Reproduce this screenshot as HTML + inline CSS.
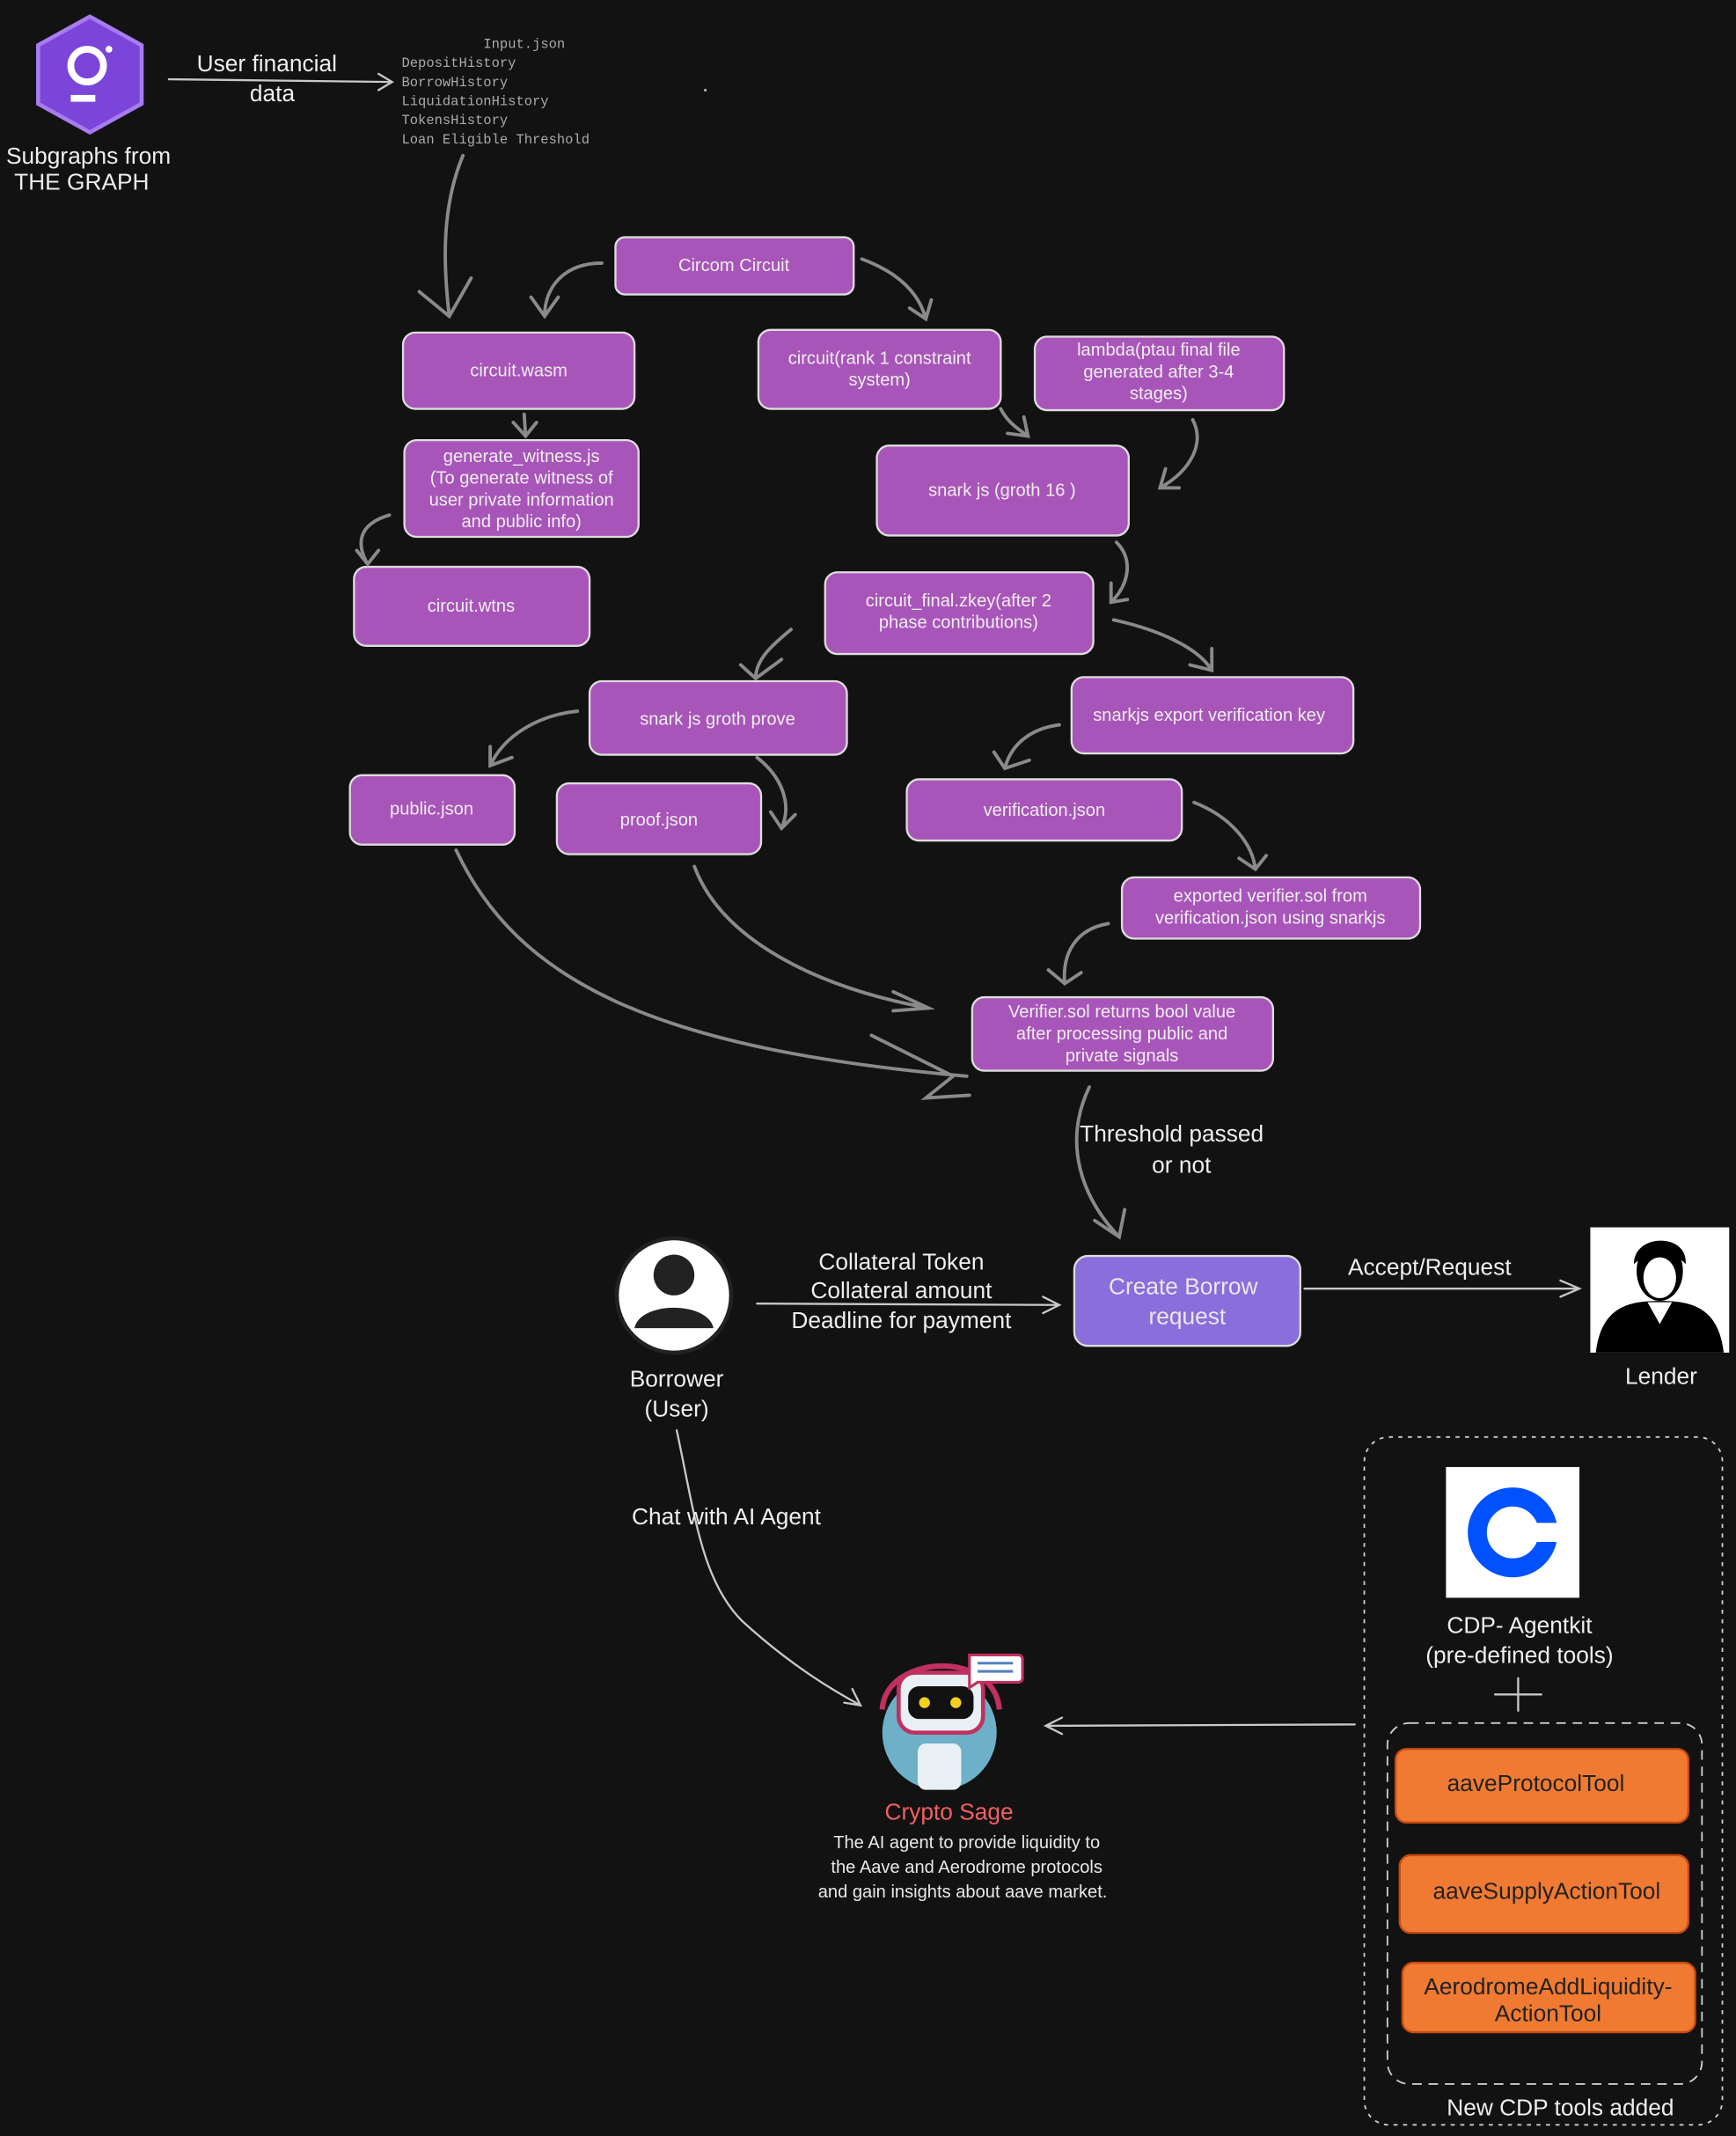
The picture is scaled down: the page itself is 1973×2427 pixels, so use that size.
<!DOCTYPE html>
<html><head><meta charset="utf-8"><style>
html,body{margin:0;padding:0;background:#121212;}
svg{display:block}
text{font-family:"Liberation Sans",sans-serif;fill:#e8e8e8}
.b{fill:#a855b9;stroke:#ddd;stroke-width:1.5}
.t{font-size:13px;text-anchor:middle;fill:#eee}
.a{fill:none;stroke:#8a8a8a;stroke-width:2.5;stroke-linecap:round}
.w{fill:none;stroke:#c8c8c8;stroke-width:1.5;stroke-linecap:round}
.m{font-family:"Liberation Mono",monospace;font-size:10px;fill:#aaa}
.h{font-size:17px;fill:#eee}
.o{fill:#f07a32;stroke:#c84a10;stroke-width:1.5}
.ot{font-size:17px;text-anchor:middle;fill:#222}
</style></head><body>
<svg width="1973" height="2427" viewBox="0 0 1275 1568" xmlns="http://www.w3.org/2000/svg">
<rect width="1275" height="1568" fill="#121212"/>
<polygon points="66,12 104,33 104,76 66,97 28,76 28,33" fill="#7b45d9" stroke="#a77cf0" stroke-width="3"/>
<circle cx="64" cy="48" r="12" fill="none" stroke="#fff" stroke-width="5"/>
<line x1="52" y1="72" x2="70" y2="72" stroke="#fff" stroke-width="5"/>
<line x1="80" y1="36" x2="80" y2="36" stroke="#fff" stroke-width="5" stroke-linecap="round"/>
<text x="65" y="120" class="h" text-anchor="middle" font-size="15">Subgraphs from</text>
<text x="60" y="139" class="h" text-anchor="middle" font-size="15">THE GRAPH</text>
<text x="196" y="52" class="h" text-anchor="middle">User financial</text>
<text x="200" y="74" class="h" text-anchor="middle">data</text>
<path class="w" d="M124,58 L288,60 M278,54 L288,60 L278,66"/>
<text x="355" y="35" class="m">Input.json</text>
<text x="295" y="49" class="m">DepositHistory</text>
<text x="295" y="63" class="m">BorrowHistory</text>
<text x="295" y="77" class="m">LiquidationHistory</text>
<text x="295" y="91" class="m">TokensHistory</text>
<text x="295" y="105" class="m">Loan Eligible Threshold</text>
<circle cx="518" cy="66" r="1" fill="#bbb"/>
<path class="a" stroke="#b8bcc0" d="M340,114 C325,150 325,190 330,232 M308,214 L330,232 L346,204"/>
<rect class="b" x="452" y="174" width="175" height="42" rx="7"/><text class="t" x="539" y="199">Circom Circuit</text>
<rect class="b" x="296" y="244" width="170" height="56" rx="9"/><text class="t" x="381" y="276">circuit.wasm</text>
<rect class="b" x="557" y="242" width="178" height="58" rx="9"/><text class="t" x="646" y="267">circuit(rank 1 constraint</text><text class="t" x="646" y="283">system)</text>
<rect class="b" x="760" y="247" width="183" height="54" rx="9"/><text class="t" x="851" y="261">lambda(ptau final file</text><text class="t" x="851" y="277">generated after 3-4</text><text class="t" x="851" y="293">stages)</text>
<rect class="b" x="297" y="323" width="172" height="71" rx="9"/><text class="t" x="383" y="339">generate_witness.js</text><text class="t" x="383" y="355">(To generate witness of</text><text class="t" x="383" y="371">user private information</text><text class="t" x="383" y="387">and public info)</text>
<rect class="b" x="644" y="327" width="185" height="66" rx="9"/><text class="t" x="736" y="364">snark js (groth 16 )</text>
<rect class="b" x="260" y="416" width="173" height="58" rx="9"/><text class="t" x="346" y="449">circuit.wtns</text>
<rect class="b" x="606" y="420" width="197" height="60" rx="9"/><text class="t" x="704" y="445">circuit_final.zkey(after 2</text><text class="t" x="704" y="461">phase contributions)</text>
<rect class="b" x="433" y="500" width="189" height="54" rx="9"/><text class="t" x="527" y="532">snark js groth prove</text>
<rect class="b" x="787" y="497" width="207" height="56" rx="9"/><text class="t" x="888" y="529">snarkjs export verification key</text>
<rect class="b" x="257" y="569" width="121" height="51" rx="9"/><text class="t" x="317" y="598">public.json</text>
<rect class="b" x="409" y="575" width="150" height="52" rx="9"/><text class="t" x="484" y="606">proof.json</text>
<rect class="b" x="666" y="572" width="202" height="45" rx="9"/><text class="t" x="767" y="599">verification.json</text>
<rect class="b" x="824" y="644" width="219" height="45" rx="9"/><text class="t" x="933" y="662">exported verifier.sol from</text><text class="t" x="933" y="678">verification.json using snarkjs</text>
<rect class="b" x="714" y="732" width="221" height="54" rx="9"/><text class="t" x="824" y="747">Verifier.sol returns bool value</text><text class="t" x="824" y="763">after processing public and</text><text class="t" x="824" y="779">private signals</text>
<path class="a" d="M442,193 C415,193 400,210 400,232 M390,218 L400,232 L410,218"/>
<path class="a" d="M633,190 C660,200 675,215 680,234 M668,226 L680,234 L684,220"/>
<path class="a" d="M385,304 L386,320 M377,310 L386,320 L394,310"/>
<path class="a" d="M735,300 C740,310 748,315 755,320 M740,318 L755,320 L752,306"/>
<path class="a" d="M876,308 C885,325 875,345 852,358 M856,344 L852,358 L866,358"/>
<path class="a" d="M286,378 C262,385 262,400 270,414 M262,404 L270,414 L278,404"/>
<path class="a" d="M820,398 C832,410 830,428 816,442 M816,428 L816,442 L828,440"/>
<path class="a" d="M581,462 C565,475 555,485 555,498 M544,488 L555,498 L574,484"/>
<path class="a" d="M818,455 C850,462 880,475 890,492 M874,488 L890,492 L890,476"/>
<path class="a" d="M424,522 C395,525 370,540 360,562 M360,548 L360,562 L376,556"/>
<path class="a" d="M556,556 C574,570 582,590 574,608 M566,596 L574,608 L584,598"/>
<path class="a" d="M778,532 C755,535 742,548 738,564 M730,552 L738,564 L756,558"/>
<path class="a" d="M877,589 C905,600 920,620 922,638 M910,630 L922,638 L930,628"/>
<path class="a" d="M814,678 C790,682 780,700 782,722 M770,712 L782,722 L794,714"/>
<path class="a" d="M510,636 C530,690 600,725 682,740 M656,728 L682,740 L656,742"/>
<path class="a" d="M335,624 C380,720 480,770 710,790 M640,760 L700,790 L680,806 L712,804"/>
<path class="a" stroke="#c0c0c0" d="M800,798 C780,840 795,880 822,908 M804,896 L822,908 L826,888"/>
<text x="793" y="838" class="h">Threshold passed</text>
<text x="846" y="861" class="h">or not</text>
<circle cx="495" cy="951" r="42" fill="#fff" stroke="#222" stroke-width="3"/>
<circle cx="495" cy="936" r="15" fill="#222"/>
<path d="M466,975 C470,955 520,955 524,975 Z" fill="#222"/>
<text x="497" y="1018" class="h" text-anchor="middle">Borrower</text>
<text x="497" y="1040" class="h" text-anchor="middle">(User)</text>
<text x="662" y="932" class="h" text-anchor="middle">Collateral Token</text>
<text x="662" y="953" class="h" text-anchor="middle">Collateral amount</text>
<text x="662" y="975" class="h" text-anchor="middle">Deadline for payment</text>
<path class="w" d="M556,957 L778,958 M766,952 L778,958 L766,964"/>
<rect x="789" y="922" width="166" height="66" rx="10" fill="#8a6edc" stroke="#ddd" stroke-width="1.5"/>
<text x="869" y="950" font-size="17" text-anchor="middle" fill="#eee">Create Borrow</text>
<text x="872" y="972" font-size="17" text-anchor="middle" fill="#eee">request</text>
<text x="1050" y="936" class="h" text-anchor="middle">Accept/Request</text>
<path class="w" d="M958,946 L1160,946 M1146,940 L1160,946 L1146,952"/>
<rect x="1168" y="901" width="102" height="92" fill="#fff"/>
<path d="M1172,993 C1176,960 1195,955 1219,955 C1243,955 1262,960 1266,993 Z" fill="#000"/>
<path d="M1210,956 L1219,972 L1228,956 Z" fill="#fff"/>
<ellipse cx="1219" cy="933" rx="17" ry="22" fill="#000"/>
<ellipse cx="1219" cy="938" rx="12" ry="15" fill="#fff"/>
<path d="M1200,928 C1200,905 1240,905 1238,928 C1230,918 1210,918 1200,928Z" fill="#000"/>
<text x="1220" y="1016" class="h" text-anchor="middle">Lender</text>
<path class="w" d="M497,1050 C510,1110 515,1160 545,1190 C580,1222 610,1240 632,1252 M620,1250 L632,1252 L626,1240"/>
<text x="464" y="1119" class="h">Chat with AI Agent</text>
<circle cx="690" cy="1272" r="42" fill="#6db0c8"/>
<path d="M648,1255 C650,1215 730,1210 734,1255" fill="none" stroke="#c03060" stroke-width="4"/>
<rect x="660" y="1228" width="62" height="44" rx="12" fill="#e8f0f5" stroke="#c03060" stroke-width="3"/>
<rect x="667" y="1238" width="48" height="24" rx="8" fill="#111"/>
<circle cx="679" cy="1250" r="4" fill="#f5d020"/><circle cx="702" cy="1250" r="4" fill="#f5d020"/>
<rect x="674" y="1280" width="32" height="34" rx="6" fill="#e8f0f5"/>
<path d="M712,1215 h36 a3,3 0 0 1 3,3 v14 a3,3 0 0 1 -3,3 h-30 l-6,4 z" fill="#fff" stroke="#c03060" stroke-width="2"/>
<line x1="718" y1="1221" x2="744" y2="1221" stroke="#5580c0" stroke-width="2"/>
<line x1="718" y1="1227" x2="744" y2="1227" stroke="#5580c0" stroke-width="2"/>
<text x="697" y="1336" font-size="17" text-anchor="middle" fill="#f06060" style="fill:#f06060">Crypto Sage</text>
<text x="710" y="1357" font-size="13" text-anchor="middle">The AI agent to provide liquidity to</text>
<text x="710" y="1375" font-size="13" text-anchor="middle">the Aave and Aerodrome protocols</text>
<text x="707" y="1393" font-size="13" text-anchor="middle">and gain insights about aave market.</text>
<path class="w" stroke="#ccc" stroke-width="2" d="M995,1266 L768,1267 M780,1261 L768,1267 L780,1273"/>
<rect x="1002" y="1055" width="263" height="505" rx="18" fill="none" stroke="#ccc" stroke-width="1.2" stroke-dasharray="3,4"/>
<rect x="1062" y="1077" width="98" height="96" fill="#fff"/>
<circle cx="1111" cy="1125" r="26" fill="none" stroke="#0052ff" stroke-width="14"/>
<rect x="1120" y="1118" width="30" height="14" fill="#fff"/>
<text x="1116" y="1199" class="h" text-anchor="middle">CDP- Agentkit</text>
<text x="1116" y="1221" class="h" text-anchor="middle">(pre-defined tools)</text>
<path class="w" stroke="#ddd" stroke-width="2.5" d="M1115,1232 L1115,1256 M1098,1244 L1132,1244"/>
<rect x="1019" y="1265" width="231" height="265" rx="16" fill="none" stroke="#ccc" stroke-width="1.2" stroke-dasharray="7,5"/>
<rect class="o" x="1025" y="1284" width="215" height="54" rx="8"/><text class="ot" x="1128" y="1315">aaveProtocolTool</text>
<rect class="o" x="1028" y="1362" width="212" height="57" rx="8"/><text class="ot" x="1136" y="1394">aaveSupplyActionTool</text>
<rect class="o" x="1030" y="1441" width="215" height="51" rx="8"/><text class="ot" x="1137" y="1464" font-size="16">AerodromeAddLiquidity-</text><text class="ot" x="1137" y="1484" font-size="16">ActionTool</text>
<text x="1146" y="1553" class="h" text-anchor="middle">New CDP tools added</text>
</svg>
</body></html>
